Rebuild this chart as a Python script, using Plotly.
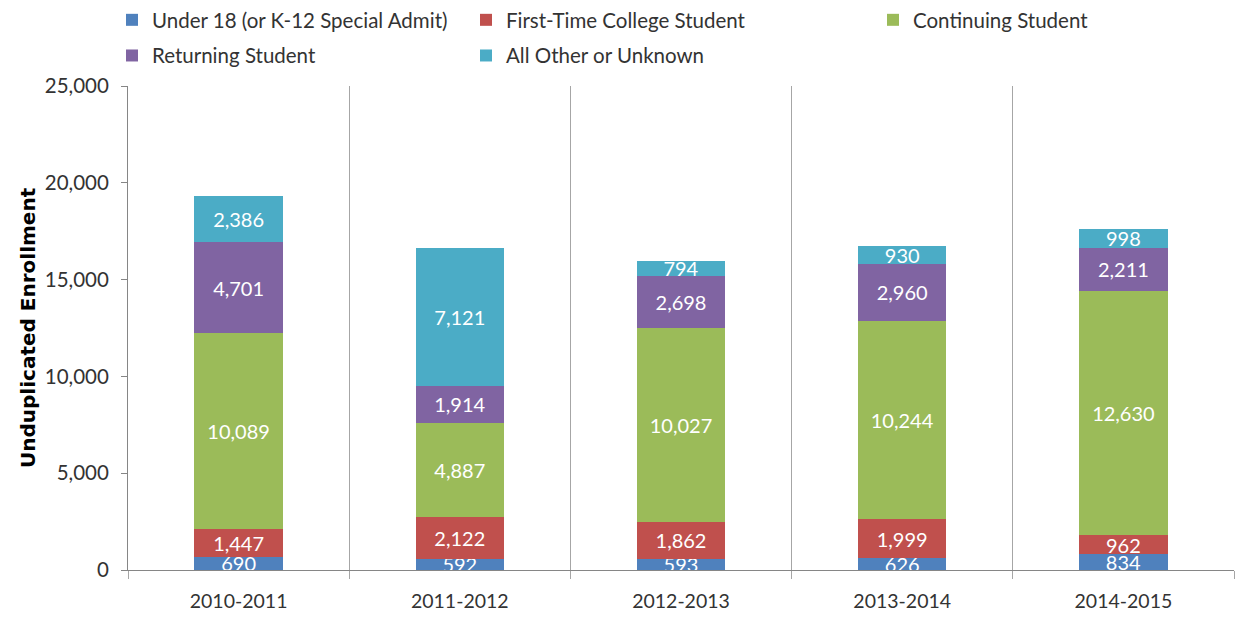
import plotly.graph_objects as go

categories = ["2010-2011", "2011-2012", "2012-2013", "2013-2014", "2014-2015"]
under18 = [690, 592, 593, 626, 834]
first_time = [1447, 2122, 1862, 1999, 962]
continuing = [10089, 4887, 10027, 10244, 12630]
returning = [4701, 1914, 2698, 2960, 2211]
other = [2386, 7121, 794, 930, 998]

series = [
    ("Under 18 (or K-12 Special Admit)", under18, "#4F81BD", "legend"),
    ("First-Time College Student", first_time, "#C0504D", "legend2"),
    ("Continuing Student", continuing, "#9BBB59", "legend3"),
    ("Returning Student", returning, "#8064A2", "legend"),
    ("All Other or Unknown", other, "#4BACC6", "legend2"),
]

FONT = "Lato"
fig = go.Figure()
for name, vals, color, lg in series:
    fig.add_trace(go.Bar(
        x=categories, y=vals, name=name, marker_color=color,
        marker_line_width=0,
        text=[f"{v:,}" for v in vals], textposition="inside",
        insidetextanchor="middle", textangle=0,
        textfont=dict(color="white", size=20, family=FONT),
        legend=lg, legendgroup=name,
    ))

legend_common = dict(orientation="v", yanchor="top", y=1.012, yref="container",
                     xref="container", xanchor="left",
                     font=dict(size=20.5, family=FONT, color="#333333"),
                     bgcolor="rgba(0,0,0,0)", itemwidth=30, tracegroupgap=6,
                     traceorder="grouped")
fig.update_layout(
    barmode="stack",
    bargap=0.6,
    width=1237, height=619,
    margin=dict(l=128, r=3, t=86, b=49, autoexpand=False),
    paper_bgcolor="white", plot_bgcolor="white",
    font=dict(family=FONT, size=19, color="#333333"),
    uniformtext=dict(minsize=20, mode="show"),
    legend=dict(x=112 / 1237, **legend_common),
    legend2=dict(x=466 / 1237, **legend_common),
    legend3=dict(x=873 / 1237, **legend_common),
    xaxis=dict(
        showgrid=True, gridcolor="#A6A6A6", gridwidth=1,
        tickson="boundaries", ticks="outside", ticklen=8, tickcolor="#A6A6A6",
        showline=True, linecolor="#868686", linewidth=1,
        ticklabelstandoff=14, automargin=False,
        tickfont=dict(size=19.5, family=FONT, color="#333333"),
    ),
    yaxis=dict(
        range=[0, 25000], dtick=5000, tickformat=",",
        showgrid=False, zeroline=False,
        showline=True, linecolor="#868686", linewidth=1,
        ticks="outside", ticklen=6, tickcolor="#868686",
        ticklabelstandoff=8, automargin=False,
        tickfont=dict(size=20.5, family=FONT, color="#333333"),
    ),
    annotations=[dict(
        text="<b>Unduplicated Enrollment</b>", textangle=-90,
        xref="paper", yref="paper", x=-100 / 1106, y=0.5,
        xanchor="center", yanchor="middle", showarrow=False,
        font=dict(size=20, family="DejaVu Sans", color="#000000"),
    )],
)

fig.write_html("out.html", post_script="document.body.style.margin='0';",
               config={"displayModeBar": False})
